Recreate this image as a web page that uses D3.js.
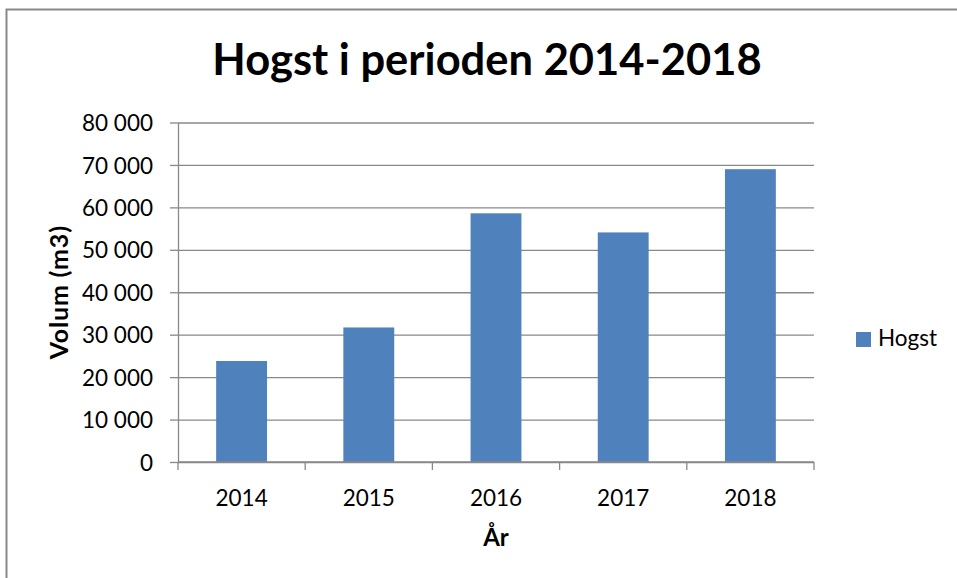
<!DOCTYPE html>
<html>
<head>
<meta charset="utf-8">
<script src="https://cdn.jsdelivr.net/npm/d3@7"></script>
<style>
  body { margin: 0; background: #fff; }
  svg { display: block; font-family: Lato, "Open Sans", sans-serif; }
</style>
</head>
<body>
<svg id="chart" width="957" height="578"></svg>
<script>
// data
var years = ['2014', '2015', '2016', '2017', '2018'];
var hogst = [23800, 31700, 58600, 54100, 69000];
var yTicks = [0, 10000, 20000, 30000, 40000, 50000, 60000, 70000, 80000];
var seriesName = 'Hogst';

var W = 957, H = 578;
var m = { left: 178, right: 814, top: 122.5, bottom: 462 };
var BAR = '#4f81bd', GRID = '#898989';

var nb = d3.formatLocale({ decimal: ',', thousands: '\u00a0', grouping: [3] });
var fmt = nb.format(',');

var svg = d3.select('#chart');

// outer frame (runs off the right and bottom edges)
svg.append('rect')
    .attr('x', 6.5).attr('y', 9.5)
    .attr('width', W + 10).attr('height', H + 10)
    .attr('fill', 'none').attr('stroke', '#898989').attr('stroke-width', 2);

var y = d3.scaleLinear().domain([0, 80000]).range([m.bottom, m.top]);
var xCat = d3.scaleBand().domain(years).range([m.left, m.right]);
var xBar = d3.scaleBand().domain(years).range([m.left, m.right])
    .paddingInner(0.6).paddingOuter(0.3);

// gridlines
svg.append('g')
    .attr('transform', `translate(${m.left},0)`)
    .call(d3.axisLeft(y).tickValues(yTicks).tickSize(-(m.right - m.left)).tickFormat(''))
    .call(g => g.select('.domain').remove())
    .call(g => g.selectAll('line').attr('stroke', GRID).attr('stroke-width', 1.3));

// bars
svg.append('g')
    .selectAll('rect')
    .data(hogst)
    .join('rect')
    .attr('x', (d, i) => xBar(years[i]))
    .attr('width', xBar.bandwidth())
    .attr('y', d => y(d))
    .attr('height', d => y(0) - y(d))
    .attr('fill', BAR);

// y axis
svg.append('g')
    .attr('transform', `translate(${m.left},0)`)
    .call(d3.axisLeft(y).tickValues(yTicks).tickSize(8).tickSizeOuter(0).tickPadding(17).tickFormat(fmt))
    .call(g => g.selectAll('line, path').attr('stroke', GRID).attr('stroke-width', 1.3))
    .call(g => g.selectAll('text').attr('font-size', 22.5).attr('fill', '#000')
        .attr('font-family', 'Lato, sans-serif').attr('dy', '0.36em'));

// x axis: ticks on category boundaries
var xAxis = svg.append('g')
    .attr('transform', `translate(0,${m.bottom})`);
xAxis.append('line')
    .attr('x1', m.left).attr('x2', m.right)
    .attr('stroke', GRID).attr('stroke-width', 1.3);
xAxis.selectAll('line.tk')
    .data(years.concat(['end']))
    .join('line')
    .attr('class', 'tk')
    .attr('x1', (d, i) => i < years.length ? xCat(d) : m.right)
    .attr('x2', (d, i) => i < years.length ? xCat(d) : m.right)
    .attr('y1', 0).attr('y2', 8)
    .attr('stroke', GRID).attr('stroke-width', 1.3);
xAxis.selectAll('text')
    .data(years)
    .join('text')
    .attr('x', d => xCat(d) + xCat.bandwidth() / 2)
    .attr('y', 43.5)
    .attr('text-anchor', 'middle')
    .attr('font-size', 22.5)
    .text(d => d);

// titles
svg.append('text')
    .attr('x', 487).attr('y', 75)
    .attr('text-anchor', 'middle')
    .attr('font-size', 43.5).attr('font-weight', 'bold')
    .text('Hogst i perioden 2014-2018');

svg.append('text')
    .attr('x', (m.left + m.right) / 2).attr('y', 546)
    .attr('text-anchor', 'middle')
    .attr('font-size', 24).attr('font-weight', 'bold')
    .text('År');

svg.append('text')
    .attr('transform', `translate(68,${(m.top + m.bottom) / 2}) rotate(-90)`)
    .attr('text-anchor', 'middle')
    .attr('font-size', 25).attr('font-weight', 'bold')
    .attr('letter-spacing', 0.8)
    .text('Volum (m3)');

// legend
var lg = svg.append('g').attr('transform', 'translate(856,332)');
lg.append('rect').attr('width', 15).attr('height', 15).attr('fill', BAR);
lg.append('text').attr('x', 22).attr('y', 14).attr('font-size', 22.5).text(seriesName);
</script>
</body>
</html>
